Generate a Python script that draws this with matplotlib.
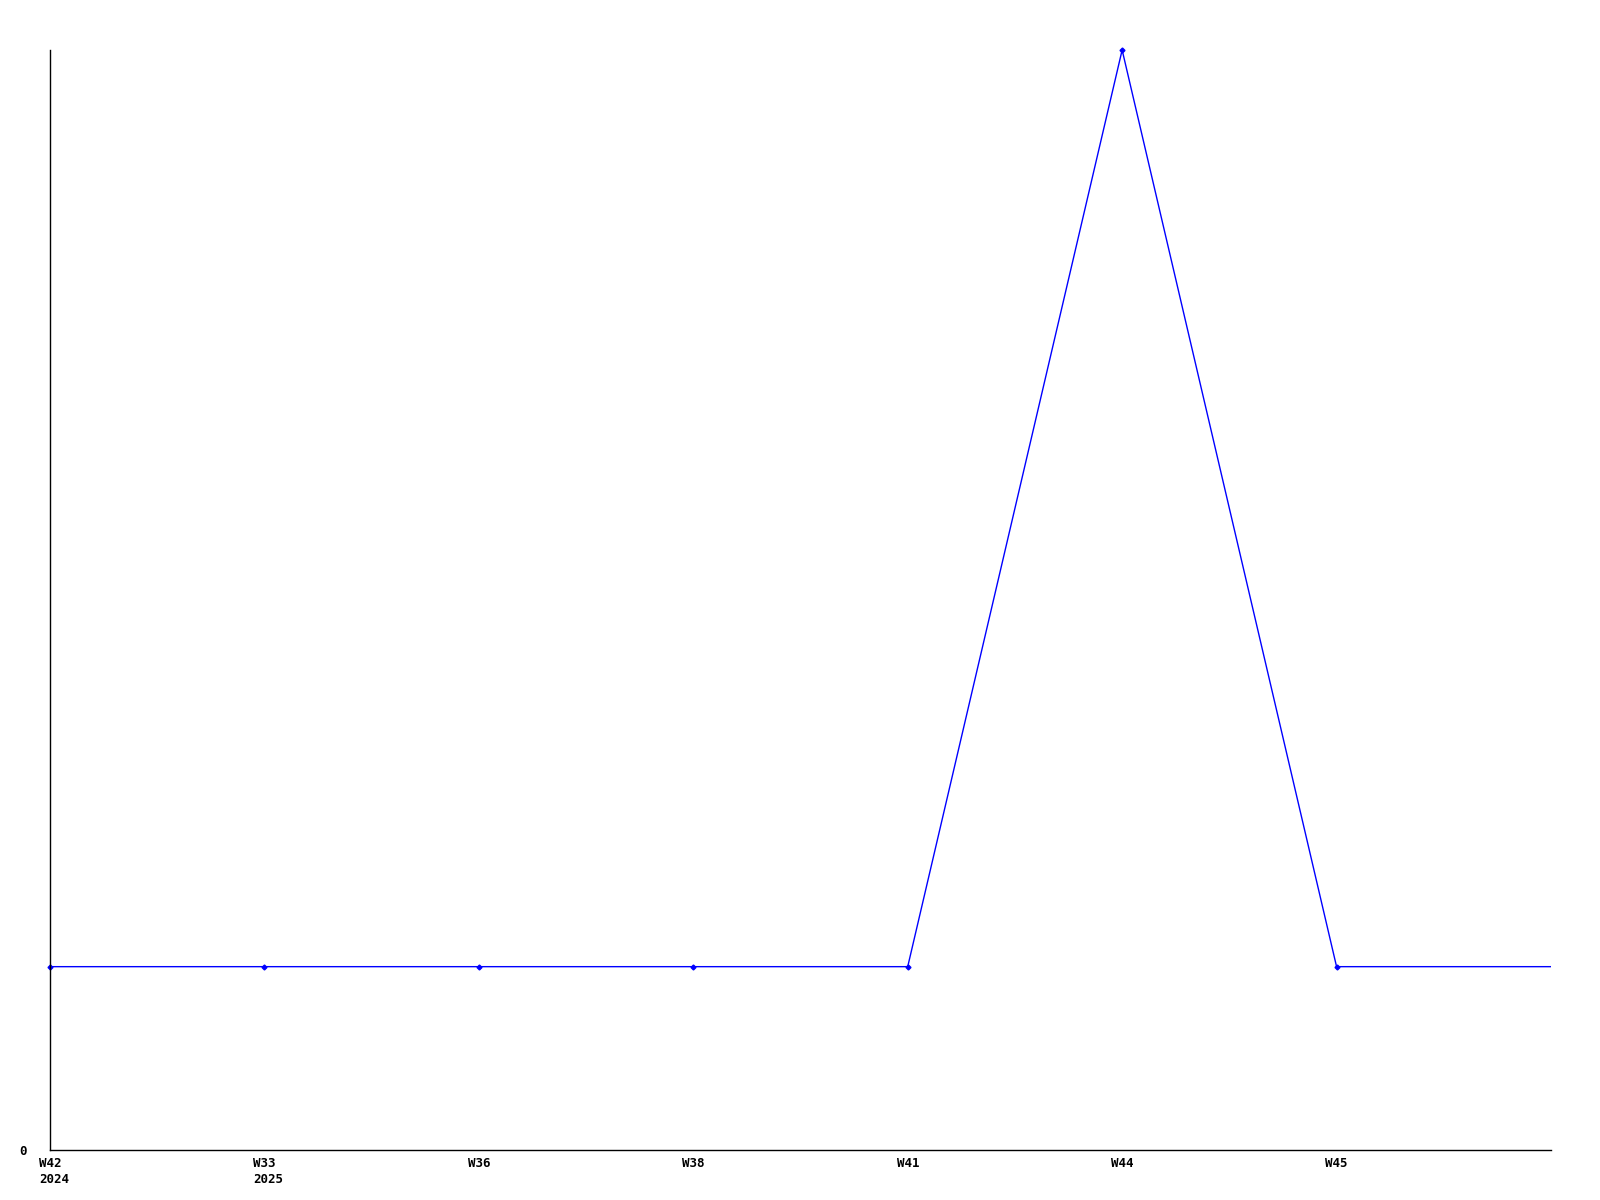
import matplotlib
matplotlib.use('Agg')
import matplotlib.pyplot as plt

# weekly counts
weeks = ['W42\n2024', 'W33\n2025', 'W36', 'W38', 'W41', 'W44', 'W45', '']
counts = [1, 1, 1, 1, 1, 6, 1, 1]

plt.rcParams['font.family'] = 'DejaVu Sans Mono'
plt.rcParams['font.weight'] = 'bold'

fig = plt.figure(figsize=(16, 12), dpi=100)
ax = fig.add_axes([50 / 1600, 1 - 1150 / 1200, 1501 / 1600, 1100 / 1200])

x = list(range(len(counts)))
ax.plot(x, counts, color='#0000ff', linewidth=1)
ax.plot(x[:-1], counts[:-1], linestyle='none', marker='D', markersize=2.5,
        color='#0000ff', clip_on=False)

ax.set_xlim(0, len(counts) - 1)
ax.set_ylim(0, max(counts))

# x labels sit a little left of each point
ax.set_xticks(x)
ax.set_xticklabels([])
for xi, lab in zip(x, weeks):
    ax.annotate(lab, xy=(xi, 0), xycoords=('data', 'axes fraction'),
                xytext=(-8, -5), textcoords='offset points',
                ha='left', va='top', fontsize=9, linespacing=1.3,
                annotation_clip=False)

ax.set_yticks([0])
ax.set_yticklabels(['0'], fontsize=9)
ax.tick_params(axis='x', length=0)
ax.tick_params(axis='y', length=0, pad=17)

for side in ['top', 'right']:
    ax.spines[side].set_visible(False)
for side in ['left', 'bottom']:
    ax.spines[side].set_linewidth(1)

fig.savefig('out.png', dpi=100)
